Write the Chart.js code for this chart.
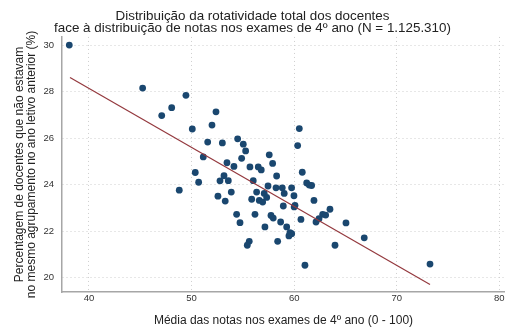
<!DOCTYPE html>
<html><head><meta charset="utf-8">
<script src="https://cdn.jsdelivr.net/npm/chart.js@4"></script>
<style>html,body{margin:0;padding:0;background:#fff;overflow:hidden}</style>
</head><body>
<canvas id="c" width="505" height="329"></canvas>
<script>
// Média das notas (x) e percentagem de docentes (y) por ponto
const mediaNotas = [38.08,45.23,47.09,48.06,49.45,52.38,51.99,50.07,51.57,53.0,54.49,55.04,55.27,54.88,53.45,54.13,51.14,50.36,50.69,52.77,53.16,53.58,48.8,60.5,60.34,57.57,57.9,55.69,56.5,56.79,58.29,56.01,60.79,61.22,61.47,61.7,57.45,58.23,58.84,59.75,56.34,57.08,57.32,55.86,56.6,56.93,59.03,59.98,61.93,58.94,60.08,60.0,63.49,62.78,63.07,62.42,62.13,60.66,65.05,54.72,56.18,57.74,57.96,58.68,57.15,59.27,59.59,59.76,59.49,58.39,55.62,55.43,63.98,61.05,66.83,73.24,52.57,53.87,53.28,54.39];
const rotatividade = [30.0,28.15,26.97,27.31,27.84,27.13,26.56,26.39,25.83,25.79,25.97,25.74,25.45,25.13,24.94,24.78,25.19,24.52,24.1,24.16,24.38,24.17,23.76,26.41,25.68,25.28,24.91,24.76,24.76,24.63,24.37,24.17,24.53,24.07,23.98,23.96,23.94,23.86,23.86,23.86,23.68,23.62,23.45,23.37,23.32,23.25,23.62,23.52,23.32,23.08,23.11,23.04,22.94,22.72,22.69,22.53,22.39,22.5,22.35,22.36,22.72,22.67,22.56,22.39,22.18,22.18,21.93,21.89,21.79,21.56,21.56,21.39,21.39,20.53,21.71,20.58,23.5,23.68,23.29,22.72];
// Recta ajustada (extremos)
const ajusteX = [38.15, 73.24];
const ajusteY = [28.61, 19.70];
const xTicks = [40, 50, 60, 70, 80];
const yTicks = [20, 22, 24, 26, 28, 30];

const titulo = ['Distribuição da rotatividade total dos docentes','face à distribuição de notas nos exames de 4º ano (N = 1.125.310)'];
const tituloX = 'Média das notas nos exames de 4º ano (0 - 100)';
const tituloY = ['Percentagem de docentes que não estavam','no mesmo agrupamento no ano letivo anterior (%)'];

const pontos = mediaNotas.map((x, i) => ({x, y: rotatividade[i]}));
const recta = ajusteX.map((x, i) => ({x, y: ajusteY[i]}));
const FONT = '"Liberation Sans", Arial, sans-serif';
const grid = {color: '#cfcfcf', lineWidth: 1, drawTicks: false};

new Chart(document.getElementById('c'), {
  type: 'scatter',
  data: {datasets: [
    {type: 'scatter', data: pontos, backgroundColor: '#1a476f', borderColor: '#1a476f', pointRadius: 3.4, pointHoverRadius: 3.4, borderWidth: 0, order: 2},
    {type: 'line', data: recta, borderColor: '#94393e', borderWidth: 1.2, pointRadius: 0, fill: false, order: 1}
  ]},
  options: {
    responsive: false, animation: false, events: [],
    layout: {autoPadding: false, padding: {left: 0, right: 0, top: 0, bottom: 0}},
    plugins: {
      legend: {display: false}, tooltip: {enabled: false},
      title: {display: true, text: titulo, color: '#222', font: {family: FONT, size: 13.4, lineHeight: 0.92, weight: 'normal'}, padding: {top: 10.3, bottom: 2}}
    },
    scales: {
      x: {
        type: 'linear', min: 37.37, max: 80.55,
        afterBuildTicks: s => { s.ticks = xTicks.map(v => ({value: v})); },
        afterFit: s => { s.height = 37; s.paddingLeft = 0; s.paddingRight = 0; },
        grid: grid,
        border: {color: '#a6a6a6', width: 1.5, dash: [1, 3]},
        ticks: {color: '#333', font: {family: FONT, size: 9.5}, padding: 1, maxRotation: 0},
        title: {display: true, text: tituloX, color: '#222', font: {family: FONT, size: 12, lineHeight: 1.2}, padding: {top: 0, bottom: 1}}
      },
      y: {
        type: 'linear', min: 19.38, max: 30.35,
        afterBuildTicks: s => { s.ticks = yTicks.map(v => ({value: v})); },
        afterFit: s => { s.width = 62; s.paddingTop = 0; s.paddingBottom = 0; },
        grid: grid,
        border: {color: '#a6a6a6', width: 1.5, dash: [1, 3]},
        ticks: {color: '#333', font: {family: FONT, size: 9.5}, padding: 8},
        title: {display: true, text: tituloY, color: '#222', font: {family: FONT, size: 12, lineHeight: 0.95}, padding: {top: 14.3, bottom: 0}}
      }
    }
  }
});
</script>
</body></html>
